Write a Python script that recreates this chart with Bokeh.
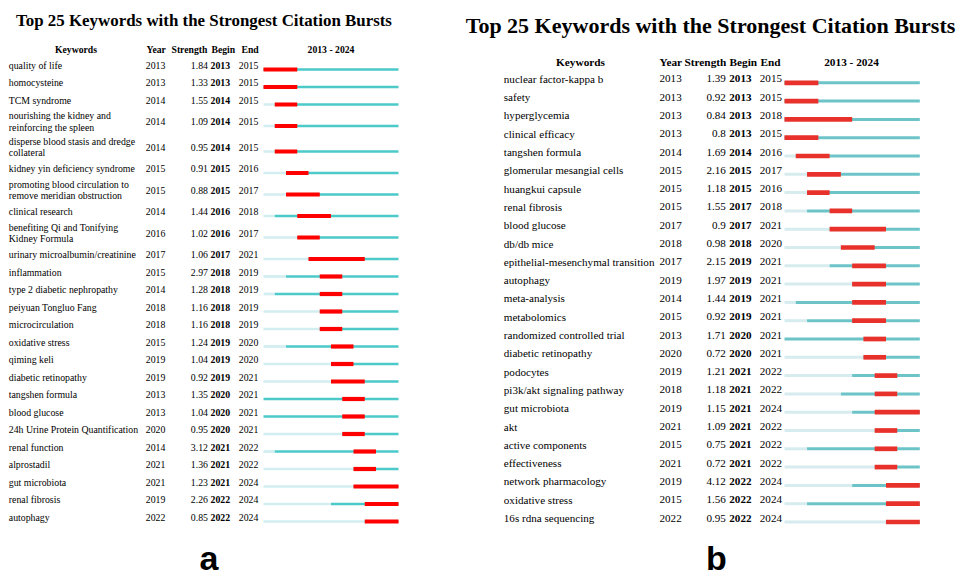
import numpy as np
from bokeh.plotting import figure
from bokeh.models import Range1d, ColumnDataSource
from bokeh.core.properties import value
from bokeh.embed import file_html
from bokeh.resources import INLINE

# ---------------- data ----------------
TITLE = "Top 25 Keywords with the Strongest Citation Bursts"
FIRST_YEAR, LAST_YEAR = 2013, 2024
HEADERS = ["Keywords", "Year", "Strength", "Begin", "End"]

kw_a = ["quality of life", "homocysteine", "TCM syndrome",
        "nourishing the kidney and\nreinforcing the spleen",
        "disperse blood stasis and dredge\ncollateral",
        "kidney yin deficiency syndrome",
        "promoting blood circulation to\nremove meridian obstruction",
        "clinical research",
        "benefiting Qi and Tonifying\nKidney Formula",
        "urinary microalbumin/creatinine", "inflammation",
        "type 2 diabetic nephropathy", "peiyuan Tongluo Fang",
        "microcirculation", "oxidative stress", "qiming keli",
        "diabetic retinopathy", "tangshen formula", "blood glucose",
        "24h Urine Protein Quantification", "renal function", "alprostadil",
        "gut microbiota", "renal fibrosis", "autophagy"]
year_a = [2013, 2013, 2014, 2014, 2014, 2015, 2015, 2014, 2016, 2017, 2015, 2014, 2018,
          2018, 2015, 2019, 2019, 2013, 2013, 2020, 2014, 2021, 2021, 2019, 2022]
strength_a = [1.84, 1.33, 1.55, 1.09, 0.95, 0.91, 0.88, 1.44, 1.02, 1.06, 2.97, 1.28, 1.16,
              1.16, 1.24, 1.04, 0.92, 1.35, 1.04, 0.95, 3.12, 1.36, 1.23, 2.26, 0.85]
begin_a = [2013, 2013, 2014, 2014, 2014, 2015, 2015, 2016, 2016, 2017, 2018, 2018, 2018,
           2018, 2019, 2019, 2019, 2020, 2020, 2020, 2021, 2021, 2021, 2022, 2022]
end_a = [2015, 2015, 2015, 2015, 2015, 2016, 2017, 2018, 2017, 2021, 2019, 2019, 2019,
         2019, 2020, 2020, 2021, 2021, 2021, 2021, 2022, 2022, 2024, 2024, 2024]

kw_b = ["nuclear factor-kappa b", "safety", "hyperglycemia", "clinical efficacy",
        "tangshen formula", "glomerular mesangial cells", "huangkui capsule",
        "renal fibrosis", "blood glucose", "db/db mice",
        "epithelial-mesenchymal transition", "autophagy", "meta-analysis",
        "metabolomics", "randomized controlled trial", "diabetic retinopathy",
        "podocytes", "pi3k/akt signaling pathway", "gut microbiota", "akt",
        "active components", "effectiveness", "network pharmacology",
        "oxidative stress", "16s rdna sequencing"]
year_b = [2013, 2013, 2013, 2013, 2014, 2015, 2015, 2015, 2017, 2018, 2017, 2019, 2014,
          2015, 2013, 2020, 2019, 2018, 2019, 2021, 2015, 2021, 2019, 2015, 2022]
strength_b = [1.39, 0.92, 0.84, 0.8, 1.69, 2.16, 1.18, 1.55, 0.9, 0.98, 2.15, 1.97, 1.44,
              0.92, 1.71, 0.72, 1.21, 1.18, 1.15, 1.09, 0.75, 0.72, 4.12, 1.56, 0.95]
begin_b = [2013, 2013, 2013, 2013, 2014, 2015, 2015, 2017, 2017, 2018, 2019, 2019, 2019,
           2019, 2020, 2020, 2021, 2021, 2021, 2021, 2021, 2021, 2022, 2022, 2022]
end_b = [2015, 2015, 2018, 2015, 2016, 2017, 2016, 2018, 2021, 2020, 2021, 2021, 2021,
         2021, 2021, 2021, 2022, 2022, 2024, 2022, 2022, 2022, 2024, 2024, 2024]

# ---------------- layout ----------------
W, H = 960, 576
X0, Y0 = 0, 0  # data coordinates == window pixels
SERIF = value("Liberation Serif")
SANS = value("Liberation Sans")

p = figure(width=W, height=H, x_range=Range1d(X0, X0 + W), y_range=Range1d(Y0 + H, Y0),
           output_backend="svg", toolbar_location=None, min_border=0,
           x_axis_location=None, y_axis_location=None,
           background_fill_color="white", border_fill_color="white",
           outline_line_color=None)
p.grid.visible = False

PANELS = [
    dict(name="ta", kws=kw_a, yrs=year_a, strg=strength_a, beg=begin_a, end=end_a,
         title_x=203.5, title_y=19.5, title_size="16.9px",
         head_y=49, head_size="9.7px", head_kw_x=75.5, head_x=[146, 171, 211, 241],
         tl_center=330.5,
         kw_x=8.3, year_x=145.3, str_x=207.5, beg_x=210, end_x=238.3,
         font="9.8px", line_h=11.4,
         bar_l=263, bar_r=398, first_bar=69, h_single=17.5, h_double=25.5, text_dy=-4.5,
         red="#ff0000", teal="#4cc9c9", light="#d3eef0", red_h=4.2, teal_h=2.7,
         label="a", label_x=208.5),
    dict(name="tb", kws=kw_b, yrs=year_b, strg=strength_b, beg=begin_b, end=end_b,
         title_x=710, title_y=24.5, title_size="22px",
         head_y=61, head_size="11.3px", head_kw_x=580, head_x=[659, 684, 729, 760],
         tl_center=851,
         kw_x=503.3, year_x=659, str_x=725.3, beg_x=728.8, end_x=759.3,
         font="11.1px", line_h=12.5,
         bar_l=784, bar_r=919.3, first_bar=82.3, h_single=18.3, h_double=18.3, text_dy=-4,
         red="#e8312a", teal="#6cc4c8", light="#d7ecee", red_h=4.7, teal_h=3.0,
         label="b", label_x=716),
]

extra = {}
for cfg in PANELS:
    ppy = (cfg["bar_r"] - cfg["bar_l"]) / (LAST_YEAR + 1 - FIRST_YEAR)
    start = FIRST_YEAR - (cfg["bar_l"] - X0) / ppy
    extra[cfg["name"]] = Range1d(start, start + W / ppy)
p.extra_x_ranges = extra


def txt(x, y, t, size, font=SERIF, align="left", bold=False, baseline="middle"):
    p.text(x=x, y=y, text=t, text_font=font, text_font_size=size,
           text_font_style="bold" if bold else "normal", text_align=align,
           text_baseline=baseline, text_color="black")


for cfg in PANELS:
    kws = cfg["kws"]
    n = len(kws)
    # row positions (bar centres) from row heights
    hts = [cfg["h_double"] if "\n" in k else cfg["h_single"] for k in kws]
    ys = [cfg["first_bar"]]
    for i in range(1, n):
        ys.append(ys[-1] + (hts[i - 1] + hts[i]) / 2)
    ys = np.array(ys)
    ty = ys + cfg["text_dy"]

    # title and header
    txt([cfg["title_x"]], [cfg["title_y"]], [TITLE], cfg["title_size"], align="center", bold=True)
    txt([cfg["head_kw_x"]], [cfg["head_y"]], [HEADERS[0]], cfg["head_size"], align="center", bold=True)
    txt(cfg["head_x"], [cfg["head_y"]] * 4, HEADERS[1:], cfg["head_size"], bold=True)
    txt([cfg["tl_center"]], [cfg["head_y"]], [f"{FIRST_YEAR} - {LAST_YEAR}"], cfg["head_size"],
        align="center", bold=True)

    # keyword labels (possibly two lines)
    lx, ly, lt = [], [], []
    for k, yc in zip(kws, ty):
        lines = k.split("\n")
        m = len(lines)
        for j, ln in enumerate(lines):
            lx.append(cfg["kw_x"])
            ly.append(yc + (j - (m - 1) / 2) * cfg["line_h"])
            lt.append(ln)
    txt(lx, ly, lt, cfg["font"])
    txt([cfg["year_x"]] * n, ty, [str(v) for v in cfg["yrs"]], cfg["font"])
    txt([cfg["str_x"]] * n, ty, [str(v) for v in cfg["strg"]], cfg["font"], align="right")
    txt([cfg["beg_x"]] * n, ty, [str(v) for v in cfg["beg"]], cfg["font"], bold=True)
    txt([cfg["end_x"]] * n, ty, [str(v) for v in cfg["end"]], cfg["font"])

    # timeline bars
    yrs = np.array(cfg["yrs"])
    beg = np.array(cfg["beg"])
    end = np.array(cfg["end"])
    mask = yrs > FIRST_YEAR
    light = ColumnDataSource(dict(y=ys[mask], left=np.full(mask.sum(), FIRST_YEAR), right=yrs[mask]))
    teal = ColumnDataSource(dict(y=ys, left=yrs, right=np.full(n, LAST_YEAR + 1)))
    red = ColumnDataSource(dict(y=ys, left=beg, right=end + 1))
    p.hbar(y="y", left="left", right="right", height=cfg["teal_h"], source=light,
           x_range_name=cfg["name"], fill_color=cfg["light"], line_color=None)
    p.hbar(y="y", left="left", right="right", height=cfg["teal_h"], source=teal,
           x_range_name=cfg["name"], fill_color=cfg["teal"], line_color=None)
    p.hbar(y="y", left="left", right="right", height=cfg["red_h"], source=red,
           x_range_name=cfg["name"], fill_color=cfg["red"], line_color=None)

    # panel letter
    txt([cfg["label_x"]], [557], [cfg["label"]], "34px", font=SANS, align="center",
        bold=True, baseline="middle")

open("out.html", "w").write(file_html(p, INLINE))
